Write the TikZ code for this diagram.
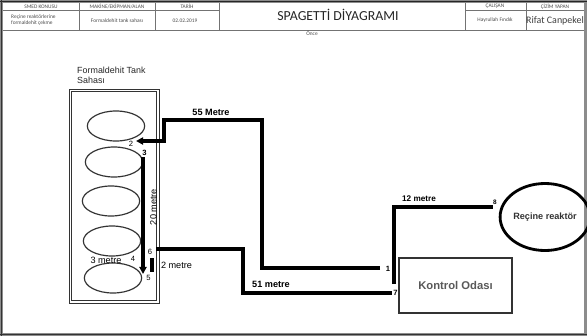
\documentclass[tikz,border=0pt]{standalone}
\usepackage{fontspec}
\setmainfont{Liberation Sans}
\newfontfamily\carlito{Carlito}
\usetikzlibrary{shapes.geometric,arrows.meta}

\tikzset{
  route/.style={line width=2.6pt},
  tank/.style={ellipse, draw=black!80, line width=1pt, minimum width=1.72cm, minimum height=0.9cm, inner sep=0pt},
  hdr/.style={font=\carlito\fontsize{4.6}{5.2}\selectfont, text=black!70, inner sep=0pt},
  lenb/.style={font=\bfseries\fontsize{7.8}{9}\selectfont, inner sep=0pt},
  lenr/.style={font=\fontsize{7.8}{9}\selectfont, inner sep=0pt},
  num/.style={font=\fontsize{6.5}{7}\selectfont, inner sep=0pt},
  numb/.style={font=\bfseries\fontsize{6.5}{7}\selectfont, inner sep=0pt},
}

\begin{document}
\begin{tikzpicture}[x=0.03cm,y=-0.03cm]
\useasboundingbox (0,0) rectangle (587,336);
% paper and frame
\fill[black!45] (0,0) rectangle (587,336);
\fill[white] (3,3) rectangle (584,333);
\draw[line width=1.6pt, black!85] (0,1.5) -- (587,1.5);
\draw[line width=1.6pt, black!80] (1.5,0) -- (1.5,336);
\draw[line width=1.6pt, black!80] (0,334.5) -- (587,334.5);

% header table
\draw[black!55, line width=0.4pt] (3,30) -- (584,30);
\draw[black!55, line width=0.4pt] (3,10) -- (219,10) (465,10) -- (584,10);
\foreach \x in {79,155,219,465,526}
  \draw[black!55, line width=0.4pt] (\x,3) -- (\x,30);
\node[hdr] (smed) at (41,6.5) {SMED KONUSU};
\node[hdr] (makine) at (117,6.5) {MAKİNE/EKİPMAN/ALAN};
\node[hdr] (tarih) at (187,6.5) {TARİH};
\node[hdr] (calisan) at (495,6.5) {ÇALIŞAN};
\node[hdr] (cizim) at (555,6.5) {ÇİZİM YAPAN};
\node[hdr, anchor=west, align=left] (konu) at (11,20.5) {Reçine reaktörlerine\\formaldehit çekme};
\node[hdr] (alan) at (117,20.5) {Formaldehit tank sahası};
\node[hdr] (gun) at (185,21) {02.02.2019};
\node[hdr] (isci) at (495,20.5) {Hayrullah Fındık};
\node[font=\carlito\fontsize{8.5}{9}\selectfont, text=black!75, inner sep=0pt] (cizen) at (555,20.5) {Rifat Canpekel};
\node[font=\carlito\fontsize{11.8}{12}\selectfont, text=black!85, inner sep=0pt] (baslik) at (338,15) {SPAGETTİ DİYAGRAMI};
\node[hdr] (once) at (312,33.5) {Önce};

% tank area
\node[font=\fontsize{7.6}{8.4}\selectfont, align=left, anchor=north west, inner sep=0pt, text=black!85] (saha) at (77,66.5) {Formaldehit Tank\\Sahası};
\draw[black!80, line width=0.7pt] (69,89) rectangle (159,303);
\draw[black!80, line width=0.7pt] (71.8,91.8) rectangle (156.2,300.2);
\foreach \x/\y [count=\i] in {116/126,114/162,111/201,112/241,113/278}
  \node[tank] (t\i) at (\x,\y) {};

% rooms
\node[draw=black!80, line width=1.3pt, minimum width=3.39cm, minimum height=1.65cm,
      font=\bfseries\fontsize{9.6}{11}\selectfont, text=black!65] (kontrol) at (455.5,285.5) {Kontrol Odası};
\node[ellipse, draw, line width=2.4pt, minimum width=2.22cm, minimum height=2.01cm, inner sep=0pt,
      font=\bfseries\fontsize{7.8}{9}\selectfont, text=black!80] (reaktor) at (545,217) {Reçine reaktör};

% route points
\coordinate (p1) at (380,268);
\coordinate (a1) at (262,120);
\coordinate (a2) at (164,141);
\coordinate (p2) at (136,141);
\coordinate (p3) at (143,157);
\coordinate (p4) at (143,274);
\coordinate (s1) at (152,258);
\coordinate (s2) at (152,272);
\coordinate (p6) at (156,249);
\coordinate (b1) at (243,293);
\coordinate (p7) at (392,293);
\coordinate (q7) at (394,284);
\coordinate (p8) at (493,207);

\draw[route, -{Triangle[length=6pt,width=6pt]}] (p1) -| (a1) -| (a2) -- (p2);
\draw[route, -{Triangle[length=6pt,width=6pt]}] (p3) -- (p4);
\draw[route] (s1) -- (s2);
\draw[route] (p6) -| (b1) -- (p7);
\draw[route] (q7) |- (p8);

% lengths
\node[lenb] (m55) at (211,112) {55 Metre};
\node[lenr, rotate=90] (m20) at (153.5,207) {20 metre};
\node[lenr] (m3) at (106,260) {3 metre};
\node[lenr] (m2) at (176.5,265) {2 metre};
\node[lenb] (m51) at (271,284) {51 metre};
\node[lenb, font=\bfseries\fontsize{7}{8}\selectfont] (m12) at (419,199) {12 metre};

% point numbers
\node[numb] (n1) at (388,268.5) {1};
\node[num] (n2) at (131,144) {2};
\node[numb] (n3) at (144.5,153) {3};
\node[num] (n4) at (133,259) {4};
\node[num] (n5) at (148.5,278) {5};
\node[num] (n6) at (150,252) {6};
\node[numb] (n7) at (395.5,293) {7};
\node[numb, font=\bfseries\fontsize{5.5}{6}\selectfont] (n8) at (495,202) {8};
\end{tikzpicture}
\end{document}
